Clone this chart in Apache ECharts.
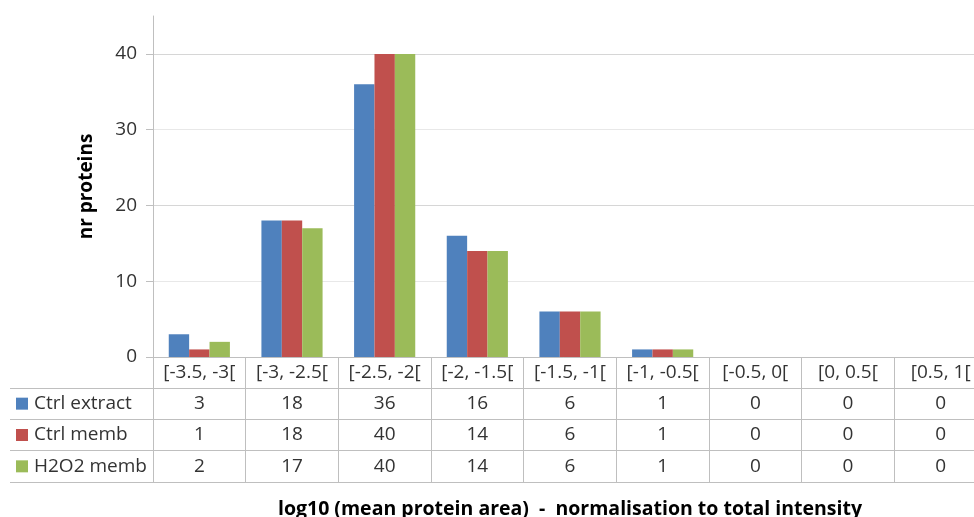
<!DOCTYPE html>
<html>
<head>
<meta charset="utf-8">
<title>nr proteins per log10 bin</title>
<script src="https://cdn.jsdelivr.net/npm/echarts@6/dist/echarts.min.js"></script>
<style>
  html, body { margin: 0; padding: 0; background: #fff; }
  #chart { width: 974px; height: 517px; }
</style>
</head>
<body>
<div id="chart"></div>
<script>
// Bins of log10(mean protein area)
const categories = ['[-3.5, -3[', '[-3, -2.5[', '[-2.5, -2[', '[-2, -1.5[', '[-1.5, -1[', '[-1, -0.5[', '[-0.5, 0[', '[0, 0.5[', '[0.5, 1['];

const seriesNames = ['Ctrl extract', 'Ctrl memb', 'H2O2 memb'];
const ctrlExtract = [3, 18, 36, 16, 6, 1, 0, 0, 0];
const ctrlMemb    = [1, 18, 40, 14, 6, 1, 0, 0, 0];
const h2o2Memb    = [2, 17, 40, 14, 6, 1, 0, 0, 0];

const yTickLabels = [0, 10, 20, 30, 40];

const colors = ['#4F81BD', '#C0504D', '#9BBB59'];
const seriesValues = [ctrlExtract, ctrlMemb, h2o2Memb];

const FONT = '"Open Sans", "Noto Sans", sans-serif';
const FS = 19;
const TEXT = '#333333';
const BORDER = '#BFBFBF';

// Table cells: [category index, row index, value]
const tableData = [];
seriesValues.forEach((vals, r) => vals.forEach((v, c) => tableData.push([c, r, v])));

const rich = {};
seriesNames.forEach((n, i) => {
  rich['b' + i] = { width: 12, height: 12, backgroundColor: colors[i] };
});
rich.t = { fontFamily: FONT, fontSize: FS, color: TEXT, padding: [0, 0, 0, 6] };

const chart = echarts.init(document.getElementById('chart'), null, { renderer: 'canvas' });

chart.setOption({
  animation: false,
  backgroundColor: '#ffffff',
  textStyle: { fontFamily: FONT },
  grid: [
    { left: 153, right: -13, top: 16, bottom: 160, outerBoundsMode: 'none', containLabel: false },
    { left: 153, right: -13, top: 388, bottom: 35, outerBoundsMode: 'none', containLabel: false }
  ],
  xAxis: [
    {
      gridIndex: 0,
      type: 'category',
      data: categories,
      axisLine: { show: true, lineStyle: { color: BORDER, width: 1 } },
      axisTick: { show: true, interval: 0, length: 31, alignWithLabel: false, lineStyle: { color: BORDER } },
      axisLabel: { interval: 0, hideOverlap: false, fontFamily: FONT, fontSize: FS, color: TEXT, margin: 6, verticalAlign: 'top' },
      splitLine: { show: false }
    },
    {
      gridIndex: 1,
      type: 'category',
      data: categories,
      position: 'top',
      axisLine: { show: true, lineStyle: { color: BORDER } },
      axisTick: { show: false },
      axisLabel: { show: false },
      splitLine: { show: true, interval: 0, lineStyle: { color: BORDER } }
    },
    {
      gridIndex: 1,
      type: 'category',
      data: categories,
      position: 'bottom',
      axisLine: { show: true, lineStyle: { color: BORDER } },
      axisTick: { show: false },
      axisLabel: { show: false },
      name: 'log10 (mean protein area)  -  normalisation to total intensity',
      nameLocation: 'middle',
      nameGap: 17,
      nameTextStyle: { fontFamily: FONT, fontSize: 19.5, fontWeight: 'bold', color: '#000000' }
    }
  ],
  yAxis: [
    {
      gridIndex: 0,
      type: 'value',
      min: 0,
      max: 45,
      interval: 5,
      axisLine: { show: true, lineStyle: { color: BORDER } },
      axisTick: { show: true, length: 7, customValues: yTickLabels, lineStyle: { color: BORDER } },
      axisLabel: { customValues: yTickLabels, fontFamily: FONT, fontSize: FS, color: TEXT, margin: 16 },
      splitLine: { show: true, lineStyle: { color: ['#D6D6D6', '#E8E8E8'], width: 1 } },
      name: 'nr proteins',
      nameLocation: 'middle',
      nameGap: 57,
      nameTextStyle: { fontFamily: FONT, fontSize: 19, fontWeight: 'bold', color: '#000000' }
    },
    {
      gridIndex: 1,
      type: 'category',
      data: seriesNames,
      inverse: true,
      axisLine: { show: true, lineStyle: { color: BORDER } },
      axisTick: { show: true, interval: 0, length: 143, alignWithLabel: false, lineStyle: { color: BORDER } },
      axisLabel: {
        interval: 0,
        margin: 137,
        align: 'left',
        formatter: (v, i) => '{b' + i + '|}{t|' + v + '}',
        rich: rich
      },
      splitLine: { show: true, interval: 0, lineStyle: { color: BORDER } }
    },
    {
      // left border of the legend column
      gridIndex: 1,
      type: 'category',
      data: seriesNames,
      inverse: true,
      offset: 143,
      axisLine: { show: true, lineStyle: { color: BORDER } },
      axisTick: { show: false },
      axisLabel: { show: false },
      splitLine: { show: false }
    }
  ],
  series: seriesNames.map((name, i) => ({
    name: name,
    type: 'bar',
    xAxisIndex: 0,
    yAxisIndex: 0,
    data: seriesValues[i],
    barGap: '0%',
    barCategoryGap: '34%',
    itemStyle: { color: colors[i] }
  })).concat([{
    type: 'custom',
    xAxisIndex: 1,
    yAxisIndex: 1,
    data: tableData,
    renderItem: (params, api) => {
      const p = api.coord([api.value(0), api.value(1)]);
      return {
        type: 'text',
        x: p[0],
        y: p[1],
        style: {
          text: String(api.value(2)),
          fontFamily: FONT,
          fontSize: FS,
          fill: TEXT,
          align: 'center',
          verticalAlign: 'middle'
        }
      };
    }
  }])
});
</script>
</body>
</html>
